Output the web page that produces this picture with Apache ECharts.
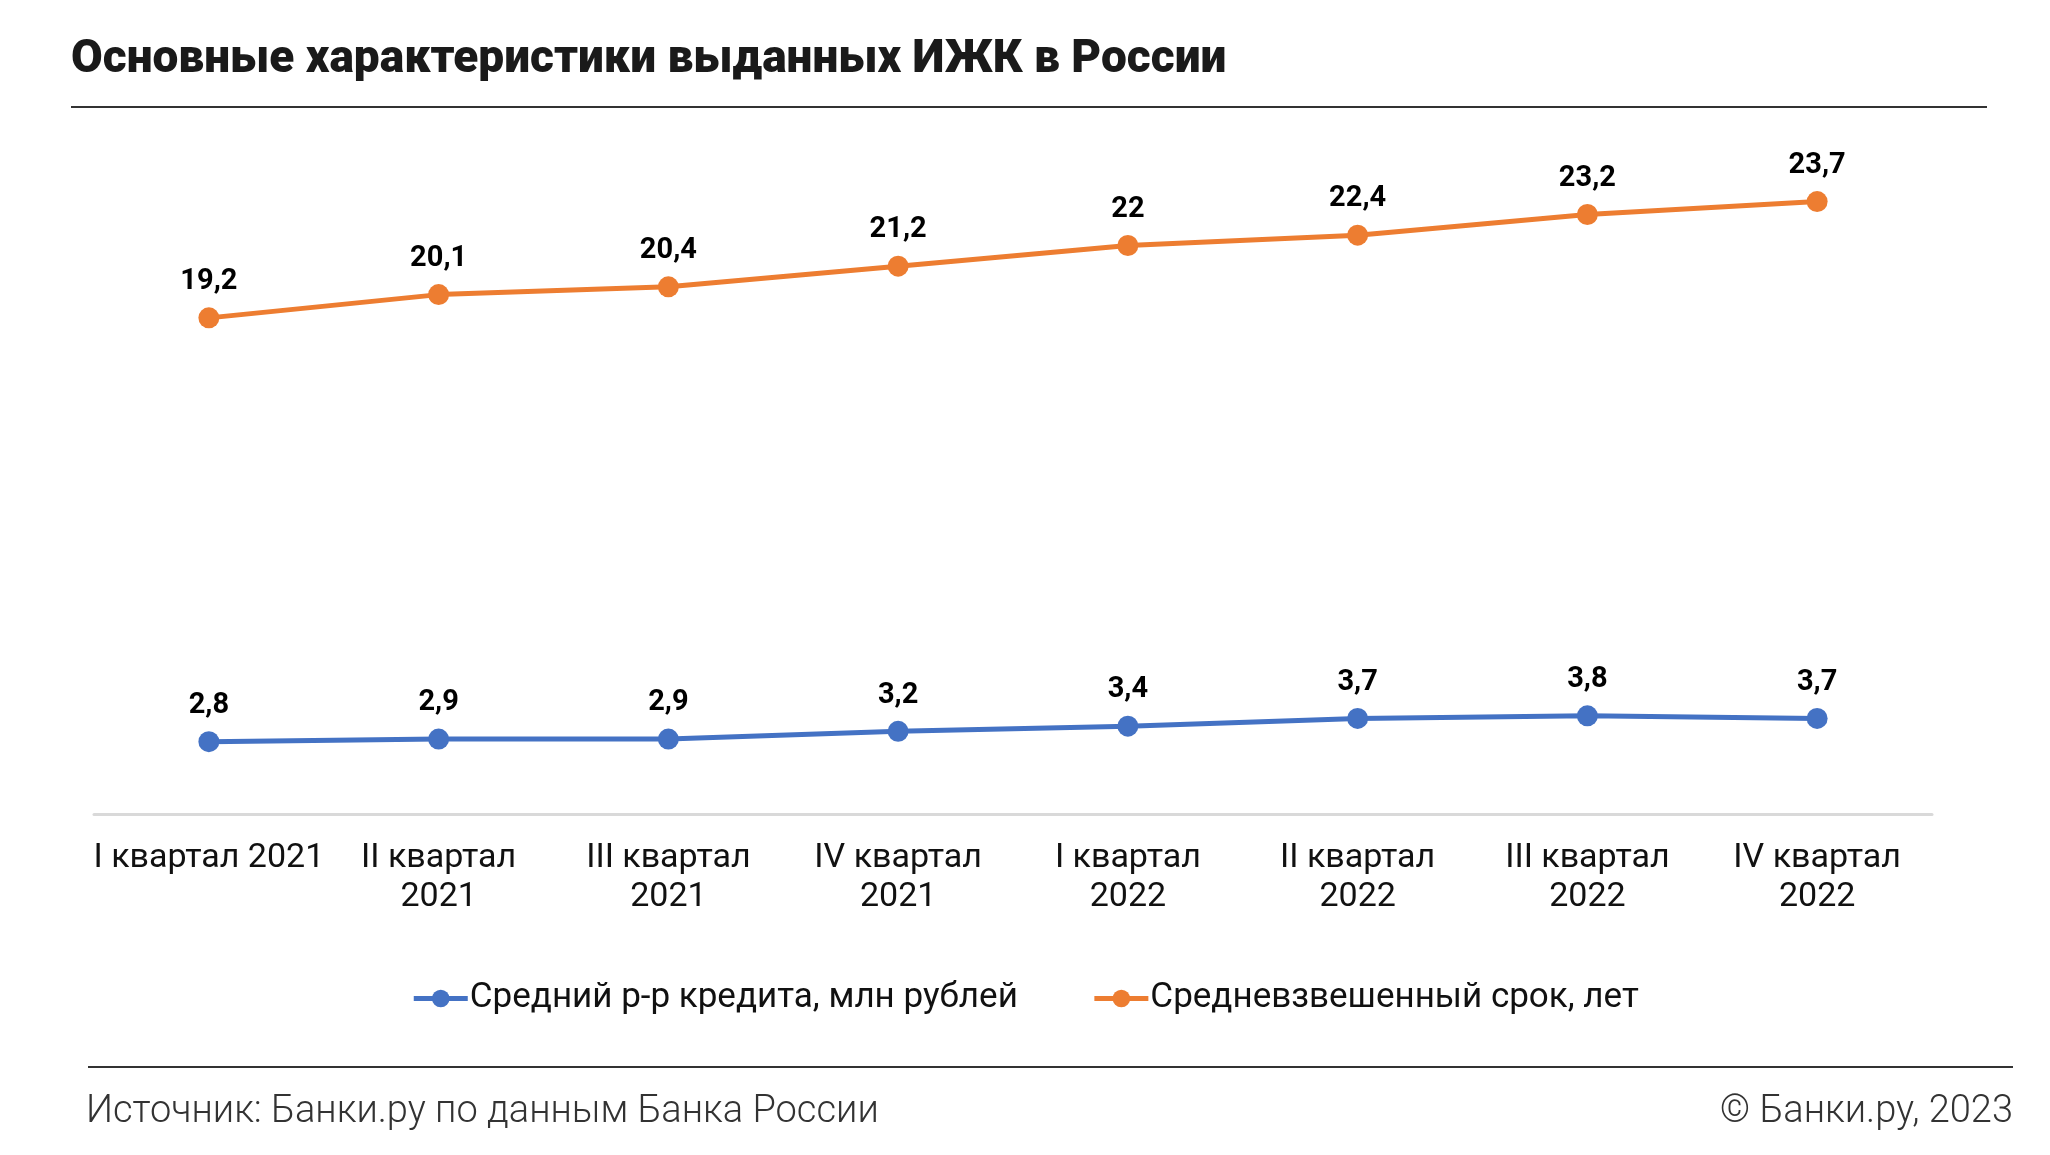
<!DOCTYPE html>
<html><head><meta charset="utf-8">
<script src="https://cdn.jsdelivr.net/npm/echarts@6/dist/echarts.min.js"></script>
<style>html,body{margin:0;padding:0;background:#fff}#c{width:2050px;height:1155px}</style>
</head><body><div id="c"></div>
<script>
const categories = ['I квартал 2021','II квартал\n2021','III квартал\n2021','IV квартал\n2021','I квартал\n2022','II квартал\n2022','III квартал\n2022','IV квартал\n2022'];
const avgLoan = [2.8,2.9,2.9,3.2,3.4,3.7,3.8,3.7];
const avgTerm = [19.2,20.1,20.4,21.2,22,22.4,23.2,23.7];
const seriesNames = ['Средний р-р кредита, млн рублей','Средневзвешенный срок, лет'];
const fmt = p => String(p.value).replace('.', ',');
const chart = echarts.init(document.getElementById('c'));
const lbl = {show:true, position:'top', distance:11, formatter:fmt, fontFamily:'Roboto', fontWeight:'bold', fontSize:29, color:'#000'};
chart.setOption({
  animation:false,
  graphic:[
    {type:'text', left:71, top:37, style:{text:'Основные характеристики выданных ИЖК в России', font:'900 46px Roboto', fill:'#1a1a1a'}},
    {type:'line', shape:{x1:71,y1:107,x2:1987,y2:107}, style:{stroke:'#333',lineWidth:2}},
    {type:'line', shape:{x1:88,y1:1067,x2:2013,y2:1067}, style:{stroke:'#333',lineWidth:2}},
    {type:'text', left:86, top:1093, style:{text:'Источник: Банки.ру по данным Банка России', font:'300 38px Roboto', fill:'#333'}},
    {type:'text', right:37, top:1093, style:{text:'© Банки.ру, 2023', font:'300 38px Roboto', fill:'#333'}}
  ],
  legend:{top:976, left:'center', itemWidth:54, itemHeight:22, itemGap:74,
    lineStyle:{width:5},
    textStyle:{fontFamily:'Roboto', fontSize:35, color:'#111', padding:[0,0,0,-3]}, data:seriesNames},
  grid:{left:94, right:118, top:168, bottom:341},
  xAxis:{type:'category', data:categories, boundaryGap:true,
    axisLine:{lineStyle:{color:'#d9d9d9', width:3}}, axisTick:{show:false},
    axisLabel:{fontFamily:'Roboto', fontSize:34, color:'#111', margin:25, lineHeight:39, interval:0}},
  yAxis:{type:'value', min:0, max:25, show:false, splitLine:{show:false}},
  series:[
    {name:seriesNames[0], type:'line', data:avgLoan, symbol:'circle', symbolSize:21, lineStyle:{width:5,color:'#4472C4'}, itemStyle:{color:'#4472C4'}, label:lbl},
    {name:seriesNames[1], type:'line', data:avgTerm, symbol:'circle', symbolSize:21, lineStyle:{width:5,color:'#ED7D31'}, itemStyle:{color:'#ED7D31'}, label:lbl}
  ]
});
</script></body></html>
